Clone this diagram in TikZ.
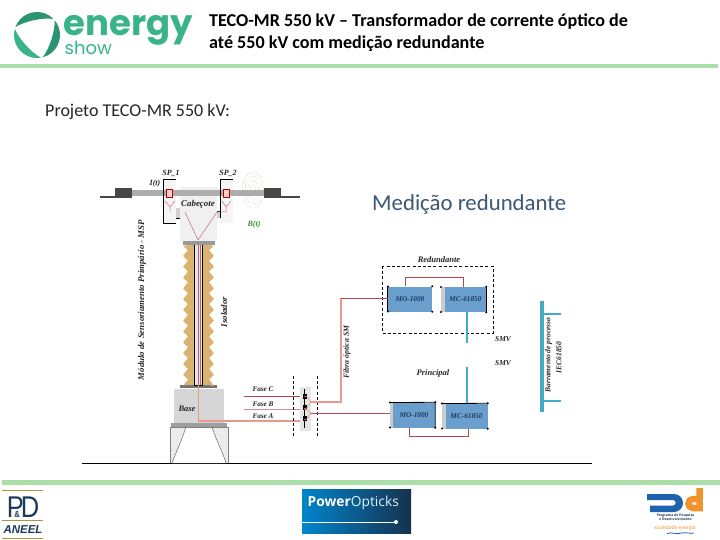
\documentclass[tikz,border=0pt]{standalone}
\usepackage{fontspec}
\setmainfont{Carlito}
\newfontfamily\serifit{Liberation Serif}
\newfontfamily\pop{Poppins}
\newfontfamily\opensans{Open Sans}
\newfontfamily\libsans{Liberation Sans}
\usetikzlibrary{calc}
\definecolor{barGreen}{HTML}{A9DFA6}
\definecolor{logoGreen}{HTML}{38B488}
\definecolor{logoDark}{HTML}{2A9473}
\definecolor{shed}{HTML}{D9B36F}
\definecolor{fiberSalmon}{HTML}{E9988A}
\definecolor{fiberDark}{HTML}{B4474F}
\definecolor{fiberMid}{HTML}{C0605F}
\definecolor{devBlue}{HTML}{6A9FCD}
\definecolor{busBlue}{HTML}{45A9C8}
\definecolor{pdBlue}{HTML}{1F62AE}
\definecolor{pdOrange}{HTML}{F0932B}
\definecolor{navy}{HTML}{1B3A5C}
\definecolor{gold}{HTML}{A8963C}
\newcommand{\labfont}[1]{\serifit\itshape\bfseries\fontsize{#1}{#1}\selectfont}
\tikzset{
  lab/.style={font=\labfont{7.5}, inner sep=0pt, text=black!85},
  device/.style={fill=devBlue, draw=none, minimum height=25pt, inner sep=0pt, font=\labfont{7.3}, text=navy},
  link/.style={draw=fiberDark, line width=0.9pt},
  smv/.style={draw=busBlue, line width=1.1pt},
  fiber/.style={draw=fiberSalmon, line width=1.5pt},
  dashbox/.style={draw=black, line width=0.8pt, dash pattern=on 3pt off 2.2pt},
  spbracket/.style={draw=black, line width=0.7pt},
  coil/.style={draw=red!70!black, line width=0.6pt, fill=red!20},
  thinred/.style={draw=fiberDark!80, line width=0.5pt},
  goldbar/.style={draw=gold, line width=1.4pt}
}
\begin{document}
\begin{tikzpicture}[x=1pt,y=-1pt]
\useasboundingbox (0,0) rectangle (720,540);
\fill[white] (0,0) rectangle (720,540);

% bars
\fill[barGreen] (0,64) rectangle (718,68.5);
\fill[barGreen] (2,480) rectangle (720,484.5);

% energy show logo
\foreach \a/\c in {-80/logoGreen, 40/logoDark, 160/logoDark} {
  \begin{scope}[shift={(37,35)}, rotate=\a]
    \fill[\c] (0:23) arc (0:116:23) .. controls (90:19) and (26:19) .. (0:23) -- cycle;
  \end{scope}
}
\node[anchor=west, inner sep=0pt, text=logoGreen, font=\pop\bfseries\fontsize{35.5}{36}\selectfont] (energy) at (63.5,30.5) {energy};
\node[anchor=west, inner sep=0pt, text=logoGreen, font=\pop\fontsize{18}{18}\selectfont] (show) at (64.5,47.5) {show};

% titles
\node[anchor=west, inner sep=0pt, font=\bfseries\fontsize{18.1}{20}\selectfont] (title1) at (209,22) {TECO-MR 550 kV – Transformador de corrente óptico de};
\node[anchor=west, inner sep=0pt, font=\bfseries\fontsize{18.1}{20}\selectfont] (title2) at (209,44) {até 550 kV com medição redundante};
\node[anchor=west, inner sep=0pt, font=\fontsize{18}{20}\selectfont, text=black!85] (proj) at (45,111.5) {Projeto TECO-MR 550 kV:};
\node[anchor=west, inner sep=0pt, font=\fontsize{22.8}{25}\selectfont, text=navy!85] (medi) at (372,204.5) {Medição redundante};

% ground
\draw[black, line width=0.8pt] (82,463) -- (592,463);

% legs
\fill[black!8] (170,427) rectangle (228,463);
\fill[white] (186,427) .. controls (180,445) and (176,452) .. (172,463) -- (226,463) .. controls (222,450) and (216,440) .. (212,427) -- cycle;
\draw[black!50, line width=0.5pt] (170,463) -- (170,427) -- (228,427) -- (228,463);
\draw[black!60, line width=0.5pt] (186,427) .. controls (180,445) and (176,452) .. (172,463);
\draw[black!60, line width=0.5pt] (212,427) .. controls (216,440) and (222,450) .. (226,463);
% base
\fill[black!16] (174,389) rectangle (224,423);
\fill[black!38] (171,423) rectangle (227,427);
\fill[black!55] (180,385) rectangle (217,388);
\node[lab, font=\labfont{8.5}] (baselab) at (187,409) {Base};

% insulator sheds
\fill[shed, rounded corners=0.7pt]
 (194,244) -- (183,246)
 \foreach \k in {0,...,12} {
   -- (188, {250+\k*10.8}) -- (183,{256+\k*10.8})
 }
 -- (190,385) -- (208,385) -- (214,386)
 \foreach \k in {12,...,0} {
   -- (214,{256+\k*10.8}) -- (209, {250+\k*10.8})
 }
 -- (214,246) -- (204,244) -- cycle;
% core
\fill[black!10] (194.5,244) rectangle (202.5,385);
\draw[black, line width=0.8pt] (194.5,244) -- (194.5,385) -- (202.5,385) -- (202.5,244);
\draw[fiberMid, line width=0.7pt] (198,244) -- (198,385);
\draw[fiberMid, line width=0.7pt] (200.5,244) -- (200.5,385);

% head
\fill[black!6] (180,187) rectangle (217,241);
\fill[black!4] (163,179) rectangle (176,223);
\fill[black!4] (220,179) rectangle (233,223);
\fill[black!18] (176,208) rectangle (180,218);
\fill[black!18] (217,211) rectangle (221,218);
\fill[black!40] (183,241) rectangle (215,244.5);
% bus
\fill[black!32] (131,190) rectangle (264,196);
\fill[black!72] (115,188) rectangle (132,198);
\fill[black!72] (264,188) rectangle (281,198);
\fill[black!72] (100,196) rectangle (115,198);
\fill[black!72] (281,196) rectangle (300,198);
% brackets
\draw[spbracket] (176,179) -- (163,179) -- (163,223) -- (176,223) (176,218) -- (180,218);
\draw[spbracket] (233,179) -- (220,179) (220,179) -- (220,218);
\draw[spbracket] (217,211) -- (221,211);
\node[lab, font=\labfont{8}] (sp1) at (171,173) {SP\_1};
\node[lab, font=\labfont{8}] (sp2) at (228,173) {SP\_2};
\node[lab, font=\labfont{8}] (it) at (155,184) {I(t)};
\node[lab, font=\labfont{8}, text=green!45!black!80] (bt) at (254,224.5) {B(t)};
\node[lab, font=\labfont{8.9}] (cab) at (198,204) {Cabeçote};
% coils and Y
\draw[coil] (166,189) rectangle (172.5,197);
\draw[coil] (223.5,189) rectangle (229,197);
\draw[thinred] (165,201) -- (170,207) -- (175,201) (170,207) -- (170,212);
\draw[thinred] (222,201) -- (226,207) -- (231,201) (226,207) -- (226,212) -- (217,212);
\draw[thinred] (185,212) -- (198,240) -- (217,212);
% magnetic field
\foreach \r in {3,5.5,8,10.5}
  \draw[green!40!black!60, line width=0.3pt, densely dotted] (253,190) ellipse ({\r} and {\r*1.75});

% fibre from base
\coordinate (fiberTop) at (198.5,385);
\coordinate (fiberCorner) at (198.5,421);
\coordinate (jA) at (302,421);
\draw[fiber] (fiberTop) -- (fiberCorner) -- (jA);
% phases
\coordinate (fcS) at (244,396);
\coordinate (fbS) at (244,409.5);
\coordinate (jC) at (302,396);
\coordinate (jB) at (302,409.5);
\draw[draw=fiberDark, line width=0.8pt] (fcS) -- (jC);
\draw[draw=fiberMid!70, line width=0.8pt] (fbS) -- (jB);
\node[lab, font=\labfont{7.2}] (fc) at (263,389.5) {Fase C};
\node[lab, font=\labfont{7.2}] (fb) at (263,404) {Fase B};
\node[lab, font=\labfont{7.2}] (fa) at (263,416.5) {Fase A};
% junction
\fill[black!10] (300,387) rectangle (311,431);
\draw[dashbox] (293,376) -- (293,438);
\draw[dashbox] (317,376) -- (317,438);
\draw[black, line width=0.8pt] (304.5,389) -- (304.5,428);
\foreach \y in {396,407,418} \fill[black] (303,\y-2.5) rectangle (306.5,\y+2.5);
\foreach \y/\z in {396/402,409/402,409/413,420/413}
  \draw[fiberSalmon, line width=0.6pt] (304,\y) .. controls (309,\y) and (309,\z) .. (311,\z);

% devices
\node[device, minimum width=44pt] (mo1) at (410,299) {MO-1000};
\node[device, minimum width=41pt] (mc1) at (465.5,299.5) {MC-61850};
\node[device, minimum width=42pt] (mo2) at (414,415) {MO-1000};
\node[device, minimum width=42pt] (mc2) at (466.5,416) {MC-61850};
\fill[black!20] (441,287) rectangle (445,312);
\fill[black!20] (390,402.5) rectangle (393,427.5);
\fill[black!20] (442,403.5) rectangle (445.5,428.5);
\draw[black, line width=0.8pt] (390,402.5) -- (mo2.north east) -- (mo2.south east);
\draw[black, line width=0.8pt] (442,403.5) -- (mc2.north east);
\draw[black, line width=0.8pt] (mo1.north west) -- (mo1.south west);
\draw[black, line width=0.8pt] (mc1.north east) -- (mc1.south east);
\foreach \n in {mo1,mc1,mo2,mc2} {
  \foreach \a in {north east, south east}
    \fill[black] (\n.\a) circle (1.1);
}
\foreach \p in {388/286.5,388/311.5,441/287,441/312,390/402.5,390/427.5,442/403.5,442/428.5}
  \foreach \u/\v in \p \fill[black] (\u,\v) circle (1.1);
\draw[dashbox] (382,266) rectangle (493,333);
\node[lab, font=\labfont{8.5}] (red) at (439,260) {Redundante};
\node[lab, font=\labfont{8.5}] (pri) at (433,373) {Principal};
\node[lab] (smv1) at (503,339) {SMV};
\node[lab] (smv2) at (503,363) {SMV};

% connectors
\coordinate (fb1) at (310,402);
\coordinate (fb2) at (341,402);
\coordinate (fb3) at (341,298);
\draw[fiber] (fb1) -- (fb2) -- (fb3);
\draw[link] (fb3) -- (mo1.west |- fb3);
\coordinate (fa1) at (311,413);
\draw[link] (fa1) -- (390,413);
\draw[link] ([xshift=-5pt]mo1.north) -- ++(0,-9) -| ([xshift=-2.5pt]mc1.north);
\draw[link] ([xshift=-5pt]mo2.south) -- ++(0,9) -| ([xshift=1.5pt]mc2.south);
\coordinate (smvA) at (467,343);
\coordinate (smvB) at (467,367);
\draw[smv] (mc1.south -| smvA) -- (smvA);
\draw[smv] (smvB) -- (mc2.north -| smvB);

% process bus
\fill[busBlue] (540,301) rectangle (543.5,412);
\coordinate (busT) at (561,314);
\coordinate (busB) at (561,401);
\draw[smv] (543,314) -- (busT);
\draw[smv, line width=2pt] (543,401) -- (busB);
\node[lab, rotate=90, font=\labfont{7.5}] (busl) at (548.5,355) {Barramento de processo};
\node[lab, rotate=90, font=\labfont{7.5}] (busm) at (559,357.5) {IEC61850};
\node[lab, rotate=90, font=\labfont{8.8}] (msp) at (142,300) {Módulo de Sensoriamento Primpário - MSP};
\node[lab, rotate=90, font=\labfont{8.8}] (iso) at (224,312) {Isolador};
\node[lab, rotate=90, font=\labfont{7.8}] (fo) at (347,352) {Fibra óptica SM};

% P&D logo
\draw[goldbar] (2,490.5) -- (43,490.5);
\draw[goldbar] (2,520.5) -- (43,520.5);
\draw[goldbar] (2,538.5) -- (43,538.5);
\node[inner sep=0pt, text=navy] (pdtxt) at (23,507.5) {\scalebox{0.85}[1]{\libsans\fontsize{30}{30}\selectfont P\kern-11pt\raisebox{0.5pt}{\fontsize{9}{9}\selectfont\bfseries\&}\kern1pt D}};
\node[inner sep=0pt, text=navy, font=\libsans\bfseries\itshape\fontsize{11.5}{11.5}\selectfont] (aneel) at (23,529.5) {ANEEL};

% PowerOpticks
\shade[left color=cyan!65!blue!80!black, right color=navy!85!black] (302,489) rectangle (411,533);
\node[anchor=west, inner sep=0pt, text=white, font=\opensans\fontsize{13.8}{15}\selectfont] (po) at (307.5,503) {\textbf{Power}\textcolor{white!85!cyan}{Opticks}};
\coordinate (poL) at (302,522);
\coordinate (poR) at (396,522);
\draw[white, line width=0.7pt] (poL) -- (poR);
\fill[white] (poR) circle (2);

% PD logo
\fill[pdBlue] (647,494) -- (674,494) arc (-90:90:9) -- (650,512) -- (650,505.5) -- (673,505.5) arc (90:-90:2.75) -- (647,500) -- cycle;
\draw[pdOrange, line width=6.5pt] (699.5,488) -- (699.5,508) -- (693,508) arc (90:270:4.5) -- (699.5,499);
\node[inner sep=0pt, text=navy, align=center, font=\opensans\bfseries\fontsize{3.4}{3.8}\selectfont] (pdt1) at (675.5,517.5) {Programa de Pesquisa\\e Desenvolvimento};
\node[inner sep=0pt, text=pdOrange, font=\fontsize{5.6}{6}\selectfont] (pdt2) at (675,528) {sociedade energia};
\draw[pdBlue, line width=0.8pt] (667,533.5) .. controls (672,531.5) and (676,535) .. (682,533) .. controls (686,532) and (690,534) .. (694,533);
\end{tikzpicture}
\end{document}
